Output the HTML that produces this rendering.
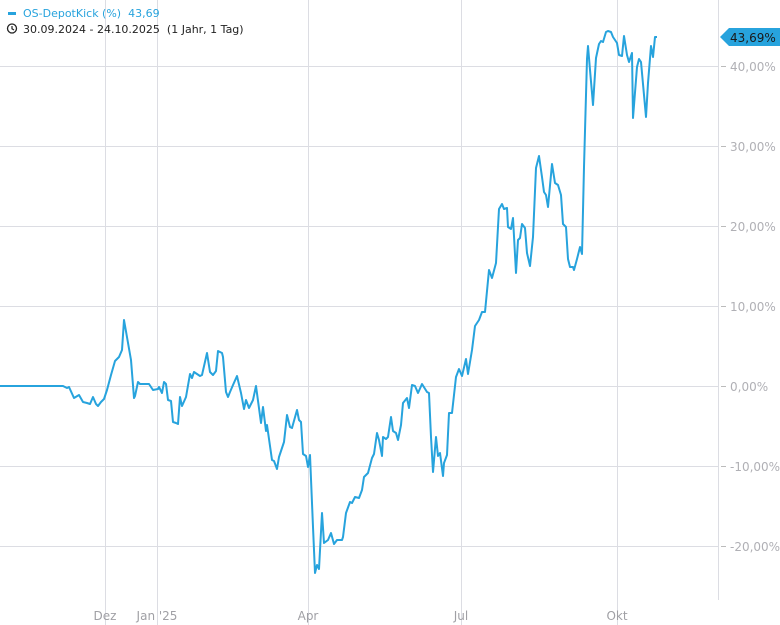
<!DOCTYPE html>
<html><head><meta charset="utf-8"><style>
body{margin:0;background:#fff;}
svg{display:block;font-family:"DejaVu Sans","Liberation Sans",sans-serif;}
.pre{white-space:pre;}
</style></head><body>
<svg width="780" height="625" viewBox="0 0 780 625" xmlns="http://www.w3.org/2000/svg">
<g stroke="#dcdde3" stroke-width="1">
<line x1="0" y1="66.5" x2="718" y2="66.5"/>
<line x1="0" y1="146.5" x2="718" y2="146.5"/>
<line x1="0" y1="226.5" x2="718" y2="226.5"/>
<line x1="0" y1="306.5" x2="718" y2="306.5"/>
<line x1="0" y1="386.5" x2="718" y2="386.5"/>
<line x1="0" y1="466.5" x2="718" y2="466.5"/>
<line x1="0" y1="546.5" x2="718" y2="546.5"/>
<line x1="105.5" y1="0" x2="105.5" y2="625"/>
<line x1="157.5" y1="0" x2="157.5" y2="625"/>
<line x1="308.5" y1="0" x2="308.5" y2="625"/>
<line x1="461.5" y1="0" x2="461.5" y2="625"/>
<line x1="617.5" y1="0" x2="617.5" y2="625"/>
<line x1="718.5" y1="0" x2="718.5" y2="600"/>
</g>
<g stroke="#bbb" stroke-width="1">
<line x1="721" y1="66.5" x2="726" y2="66.5"/>
<line x1="721" y1="146.5" x2="726" y2="146.5"/>
<line x1="721" y1="226.5" x2="726" y2="226.5"/>
<line x1="721" y1="306.5" x2="726" y2="306.5"/>
<line x1="721" y1="386.5" x2="726" y2="386.5"/>
<line x1="721" y1="466.5" x2="726" y2="466.5"/>
<line x1="721" y1="546.5" x2="726" y2="546.5"/>
</g>
<g fill="#b0b0b5" font-size="12">
<text x="730" y="71">40,00%</text>
<text x="730" y="151">30,00%</text>
<text x="730" y="231">20,00%</text>
<text x="730" y="311">10,00%</text>
<text x="730" y="391">0,00%</text>
<text x="730" y="471">-10,00%</text>
<text x="730" y="551">-20,00%</text>
</g>
<g fill="#a0a0a5" font-size="12" text-anchor="middle">
<text x="105" y="620">Dez</text>
<text x="157" y="620">Jan '25</text>
<text x="308" y="620">Apr</text>
<text x="461" y="620">Jul</text>
<text x="617" y="620">Okt</text>
</g>
<polyline fill="none" stroke="#27a3dd" stroke-width="2" stroke-linejoin="round" points="0,386 63,386 67,388 69,387 74,398 79,395 83,402 87,403 90,404 93,397 96,404 98,406 101,402 104,399 107,390 111,375 115,361 119,357 122,350 124,320 131,360 134,398 135,396 138,382 140,384 149,384 153,390 158,389 159,387 162,393 164,382 166,384 168,400 171,401 173,422 176,423 178,424 180,397 182,406 186,397 190,374 192,378 194,372 200,376 202,375 207,353 210,372 213,375 216,371 218,351 222,353 223,357 226,392 228,397 230,392 233,385 237,376 241,393 244,409 246,400 249,408 253,400 256,386 261,423 263,407 266,431 267,425 272,460 274,461 277,469 279,457 284,442 287,415 290,427 292,428 297,410 299,420 301,422 303,454 306,456 308,467 310,455 313,527 315,573 317,565 319,569 322,513 324,543 328,540 331,533 334,544 337,540 342,540 343,537 346,513 350,502 352,503 355,497 359,498 362,490 364,477 368,473 372,458 374,454 377,433 379,440 382,456 383,437 386,439 388,437 391,417 393,431 396,433 398,440 401,425 403,403 407,398 409,408 412,385 415,386 418,393 422,384 427,392 429,393 431,437 433,472 436,437 438,456 440,453 443,476 444,463 447,455 449,413 452,413 456,377 459,369 462,376 466,359 468,374 472,350 475,326 479,320 482,312 485,312 489,270 492,278 496,263 499,209 502,204 504,209 507,208 508,227 511,229 513,218 516,273 518,240 520,238 522,224 525,228 527,253 530,266 533,237 536,168 539,156 542,177 544,192 546,195 548,207 552,164 555,183 558,185 561,195 563,224 566,227 568,259 570,267 573,267 574,270 577,259 580,247 582,254 584,167 587,59 588,46 590,70 592,93 593,105 596,58 599,44 601,41 603,42 606,32 608,31 611,32 613,37 617,43 619,55 622,56 624,36 627,55 629,62 632,53 633,118 637,67 639,59 641,62 646,117 648,83 651,46 653,57 655,37 657,37"/>
<polygon points="720,37 729,28 780,28 780,46 729,46" fill="#27a3dd"/>
<text x="730" y="42" font-size="12" fill="#1a1a1a">43,69%</text>
<rect x="8" y="12" width="8" height="3" fill="#27a3dd"/>
<text class="pre" x="23" y="17" font-size="11" fill="#27a3dd">OS-DepotKick (%)  43,69</text>
<circle cx="12" cy="28.5" r="4.5" fill="none" stroke="#222" stroke-width="1.3"/>
<polyline points="12,26 12,28.8 14,30" fill="none" stroke="#222" stroke-width="1.2"/>
<text class="pre" x="23" y="33" font-size="11" fill="#222">30.09.2024 - 24.10.2025  (1 Jahr, 1 Tag)</text>
</svg>
</body></html>
